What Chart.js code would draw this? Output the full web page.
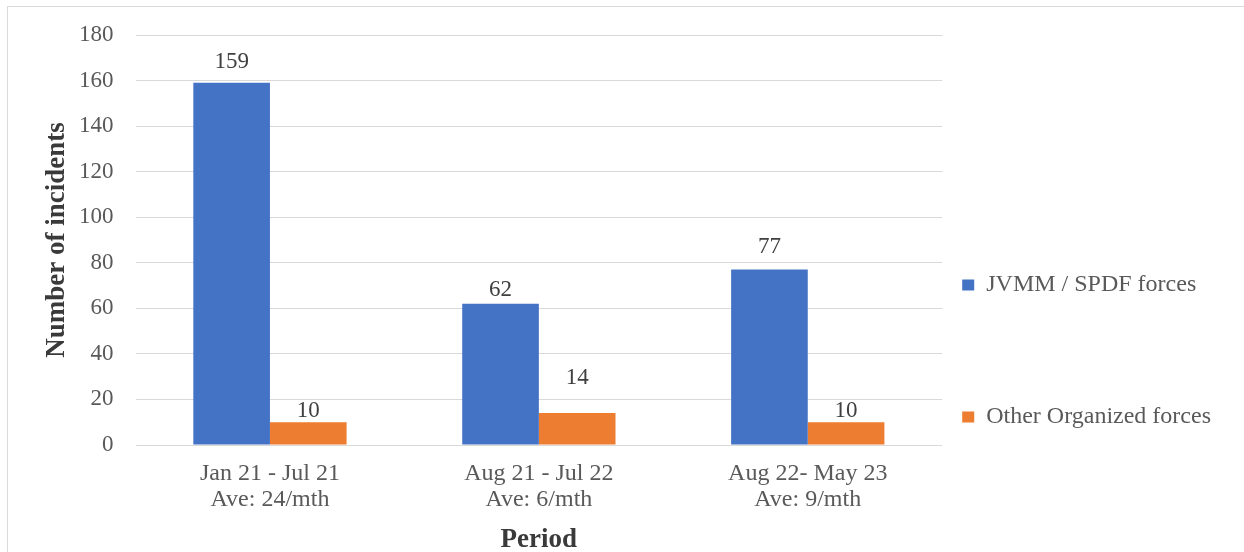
<!DOCTYPE html>
<html>
<head>
<meta charset="utf-8">
<script src="https://cdn.jsdelivr.net/npm/chart.js@4"></script>
<style>
    html, body { margin: 0; padding: 0; background: #fff; overflow: hidden; }
    #frame {
        position: absolute; left: 7px; top: 6px;
        width: 1300px; height: 600px;
        border: 1px solid #d9d9d9;
    }
    #box { position: absolute; left: 0; top: 0; width: 1236px; height: 548px; }
</style>
</head>
<body>
<div id="frame"><div id="box"><canvas id="myChart"></canvas></div></div>
<script>
const periods = [
    ['Jan 21 - Jul 21', 'Ave: 24/mth'],
    ['Aug 21 - Jul 22', 'Ave: 6/mth'],
    ['Aug 22- May 23', 'Ave: 9/mth']
];
const jvmmSpdf = [159, 62, 77];
const otherForces = [10, 14, 10];
const yTicks = [0, 20, 40, 60, 80, 100, 120, 140, 160, 180];

const serif = "'Liberation Serif', 'Times New Roman', serif";

// value labels above each bar, gap in px between bar top and label centre
const barLabels = {
    id: 'barLabels',
    afterDatasetsDraw(chart, args, opts) {
        const ctx = chart.ctx;
        ctx.save();
        ctx.font = `23px ${serif}`;
        ctx.fillStyle = '#404040';
        ctx.textAlign = 'center';
        ctx.textBaseline = 'middle';
        chart.data.datasets.forEach((ds, i) => {
            const meta = chart.getDatasetMeta(i);
            meta.data.forEach((bar, j) => {
                const gap = opts.gaps[i][j];
                ctx.fillText(String(ds.data[j]), bar.x, bar.y - gap);
            });
        });
        ctx.restore();
    }
};

const spacer = {
    text: '', fillStyle: 'rgba(0,0,0,0)', strokeStyle: 'rgba(0,0,0,0)',
    lineWidth: 0, hidden: false, datasetIndex: -1
};

const ctx = document.getElementById('myChart').getContext('2d');
const chart = new Chart(ctx, {
    type: 'bar',
    data: {
        labels: periods,
        datasets: [{
            label: 'JVMM / SPDF forces',
            data: jvmmSpdf,
            backgroundColor: '#4472C4',
            borderWidth: 0
        }, {
            label: 'Other Organized forces',
            data: otherForces,
            backgroundColor: '#ED7D31',
            borderWidth: 0
        }]
    },
    options: {
        responsive: true,
        maintainAspectRatio: false,
        animation: false,
        layout: { padding: { left: 20, top: 21, right: 23, bottom: 1 } },
        datasets: {
            bar: { categoryPercentage: 0.57, barPercentage: 1.0 }
        },
        scales: {
            x: {
                grid: { display: false, drawTicks: false },
                border: { display: false },
                ticks: {
                    color: '#595959',
                    padding: 15.5,
                    font: { family: serif, size: 24, lineHeight: '26px' }
                },
                title: {
                    display: true,
                    text: 'Period',
                    color: '#3a3a3a',
                    padding: { top: -1, bottom: 0 },
                    font: { family: serif, size: 27, weight: 'bold', lineHeight: 1 }
                }
            },
            y: {
                min: 0,
                max: 180,
                afterBuildTicks(scale) {
                    scale.ticks = yTicks.map(v => ({ value: v }));
                },
                grid: { color: '#d9d9d9', lineWidth: 1, drawTicks: false },
                border: { display: false },
                ticks: {
                    color: '#595959',
                    padding: 22,
                    font: { family: serif, size: 23, lineHeight: '12px' }
                },
                title: {
                    display: true,
                    text: 'Number of incidents',
                    color: '#3a3a3a',
                    padding: { top: 16, bottom: -14 },
                    font: { family: serif, size: 27, weight: 'bold', lineHeight: 1 }
                }
            }
        },
        plugins: {
            tooltip: { enabled: false },
            legend: {
                position: 'right',
                align: 'start',
                title: {
                    display: true,
                    text: '',
                    padding: { top: 215, bottom: 0 },
                    font: { size: 10, lineHeight: 1 }
                },
                labels: {
                    boxWidth: 12,
                    boxHeight: 11,
                    padding: 20,
                    color: '#595959',
                    font: { family: serif, size: 24 },
                    generateLabels(chart) {
                        const items = Chart.defaults.plugins.legend.labels.generateLabels(chart);
                        return [items[0], { ...spacer }, { ...spacer }, items[1]];
                    }
                }
            },
            barLabels: {
                gaps: [[21, 14, 23], [11, 35, 11]]
            }
        }
    },
    plugins: [barLabels]
});
</script>
</body>
</html>
